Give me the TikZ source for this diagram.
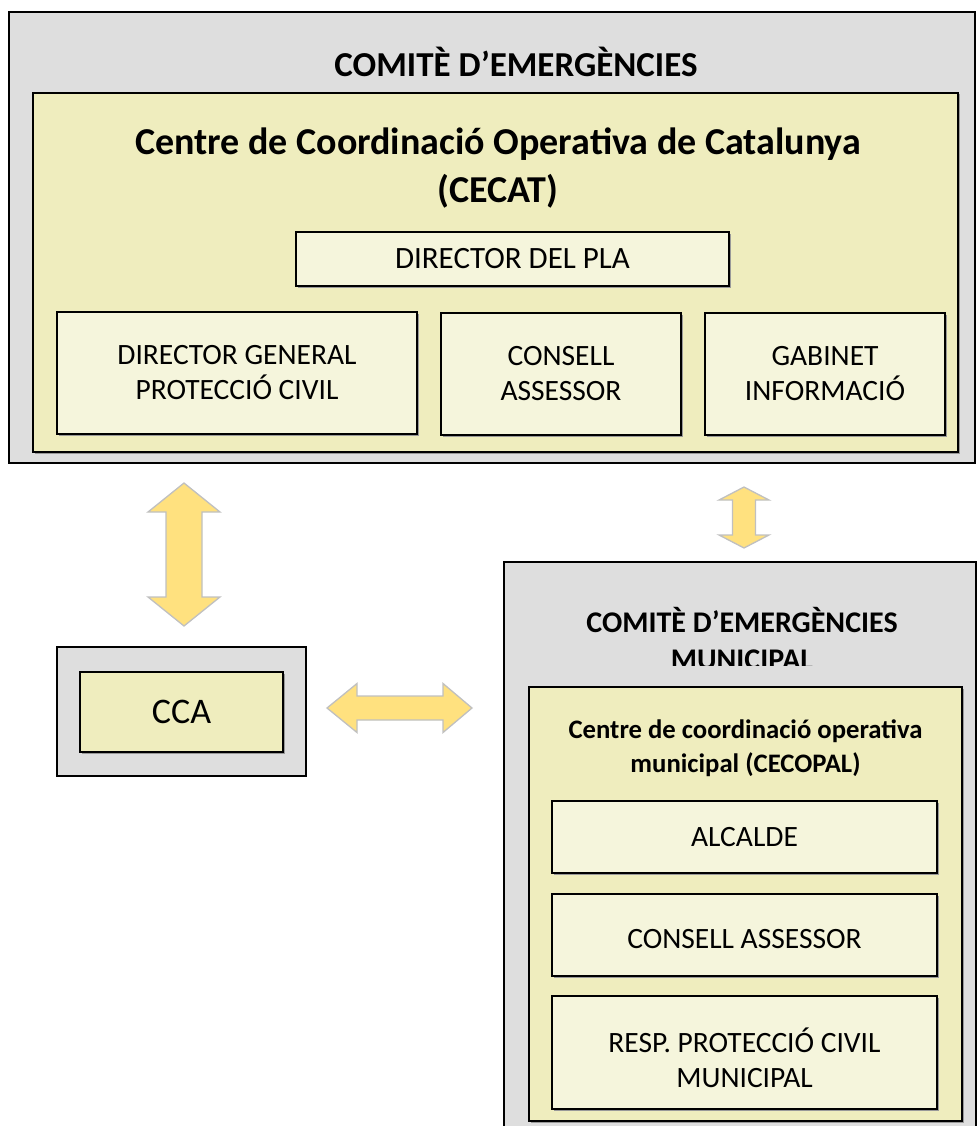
\documentclass[tikz,border=0pt]{standalone}
\usepackage{fontspec}
\setmainfont{Carlito}
\usetikzlibrary{shadows}
\definecolor{outergray}{HTML}{DEDEDE}
\definecolor{khaki}{HTML}{EFEDBE}
\definecolor{paleyel}{HTML}{F5F5DC}
\definecolor{arrowfill}{HTML}{FFE17F}
\definecolor{arrowline}{HTML}{C0C0C0}
\tikzset{
  container/.style={draw=black, line width=1.8pt, fill=outergray, inner sep=0pt, anchor=center},
  panel/.style={draw=black, line width=1.5pt, fill=khaki, inner sep=0pt, anchor=center,
     drop shadow={shadow xshift=1.5pt, shadow yshift=-1.5pt, fill=black!40, opacity=1}},
  cell/.style={draw=black, line width=1.3pt, fill=paleyel, inner sep=0pt, anchor=center, align=center,
     font=\fontsize{29.5}{35}\selectfont,
     drop shadow={shadow xshift=1.5pt, shadow yshift=-1.5pt, fill=black!40, opacity=1}},
  title/.style={inner sep=0pt, align=center},
  blockarrow/.style={fill=arrowfill, draw=arrowline, line width=1.3pt, line join=miter},
}
\begin{document}
\begin{tikzpicture}[x=1pt,y=-1pt]
\useasboundingbox (0,0) rectangle (979,1126);
% top committee
\node[container, minimum width=966pt, minimum height=451pt] (comite) at (492,237.5) {};
\node[title, font=\bfseries\fontsize{35}{42}\selectfont] (comitetitle) at (516,62) {COMITÈ D’EMERGÈNCIES};
\node[panel, minimum width=925pt, minimum height=359pt] (cecat) at (495.5,272.5) {};
\node[title, font=\bfseries\fontsize{38}{48}\selectfont] (cecattitle) at (498,168) {Centre de Coordinació Operativa de Catalunya\\(CECAT)};
\node[cell, minimum width=433pt, minimum height=54pt, font=\fontsize{31}{35}\selectfont] (director) at (512.5,259) {DIRECTOR DEL PLA};
\node[cell, minimum width=360pt, minimum height=122pt] (dgpc) at (237,373) {DIRECTOR GENERAL\\PROTECCIÓ CIVIL};
\node[cell, minimum width=240pt, minimum height=122pt] (consell) at (561,374) {CONSELL\\ASSESSOR};
\node[cell, minimum width=240pt, minimum height=122pt] (gabinet) at (825,374) {GABINET\\INFORMACIÓ};
% CCA
\node[container, minimum width=249pt, minimum height=129pt] (ccaouter) at (181.5,711.5) {};
\node[panel, minimum width=203pt, minimum height=80pt, font=\fontsize{36}{40}\selectfont] (cca) at (181.5,712) {CCA};
% municipal
\node[container, minimum width=472pt, minimum height=578pt] (muni) at (740,851) {};
\begin{scope}
\clip (505,600) rectangle (975,665);
\node[title, font=\bfseries\fontsize{30}{37}\selectfont] (munititle) at (742,639) {COMITÈ D’EMERGÈNCIES\\MUNICIPAL};
\end{scope}
\node[panel, minimum width=433pt, minimum height=434pt] (cecopal) at (745.5,904) {};
\node[title, font=\bfseries\fontsize{26.7}{33.5}\selectfont] (cecopaltitle) at (745.5,748) {Centre de coordinació operativa\\municipal (CECOPAL)};
\node[cell, minimum width=385pt, minimum height=72pt] (alcalde) at (744.5,837) {ALCALDE};
\node[cell, minimum width=385pt, minimum height=82pt] (consellm) at (744.5,935) {};
\node[font=\fontsize{29.5}{35}\selectfont, inner sep=0pt] (consellmtext) at (744.5,939) {CONSELL ASSESSOR};
\node[cell, minimum width=385pt, minimum height=113pt] (resp) at (744.5,1052.5) {};
\node[font=\fontsize{29.5}{35}\selectfont, inner sep=0pt, align=center] (resptext) at (744.5,1058) {RESP. PROTECCIÓ CIVIL\\MUNICIPAL};
% arrows
\draw[blockarrow] (184,483) -- (220,512) -- (202,512) -- (202,597) -- (220,597) -- (184,626)
  -- (148,597) -- (166,597) -- (166,512) -- (148,512) -- cycle;
\draw[blockarrow] (744,487) -- (769,500) -- (755.5,500) -- (755.5,535) -- (769,535) -- (744,548)
  -- (719,535) -- (732.5,535) -- (732.5,500) -- (719,500) -- cycle;
\draw[blockarrow] (327,708) -- (357,683.5) -- (357,696) -- (443,696) -- (443,683.5) -- (472,708)
  -- (443,732.5) -- (443,720) -- (357,720) -- (357,732.5) -- cycle;
\end{tikzpicture}
\end{document}
